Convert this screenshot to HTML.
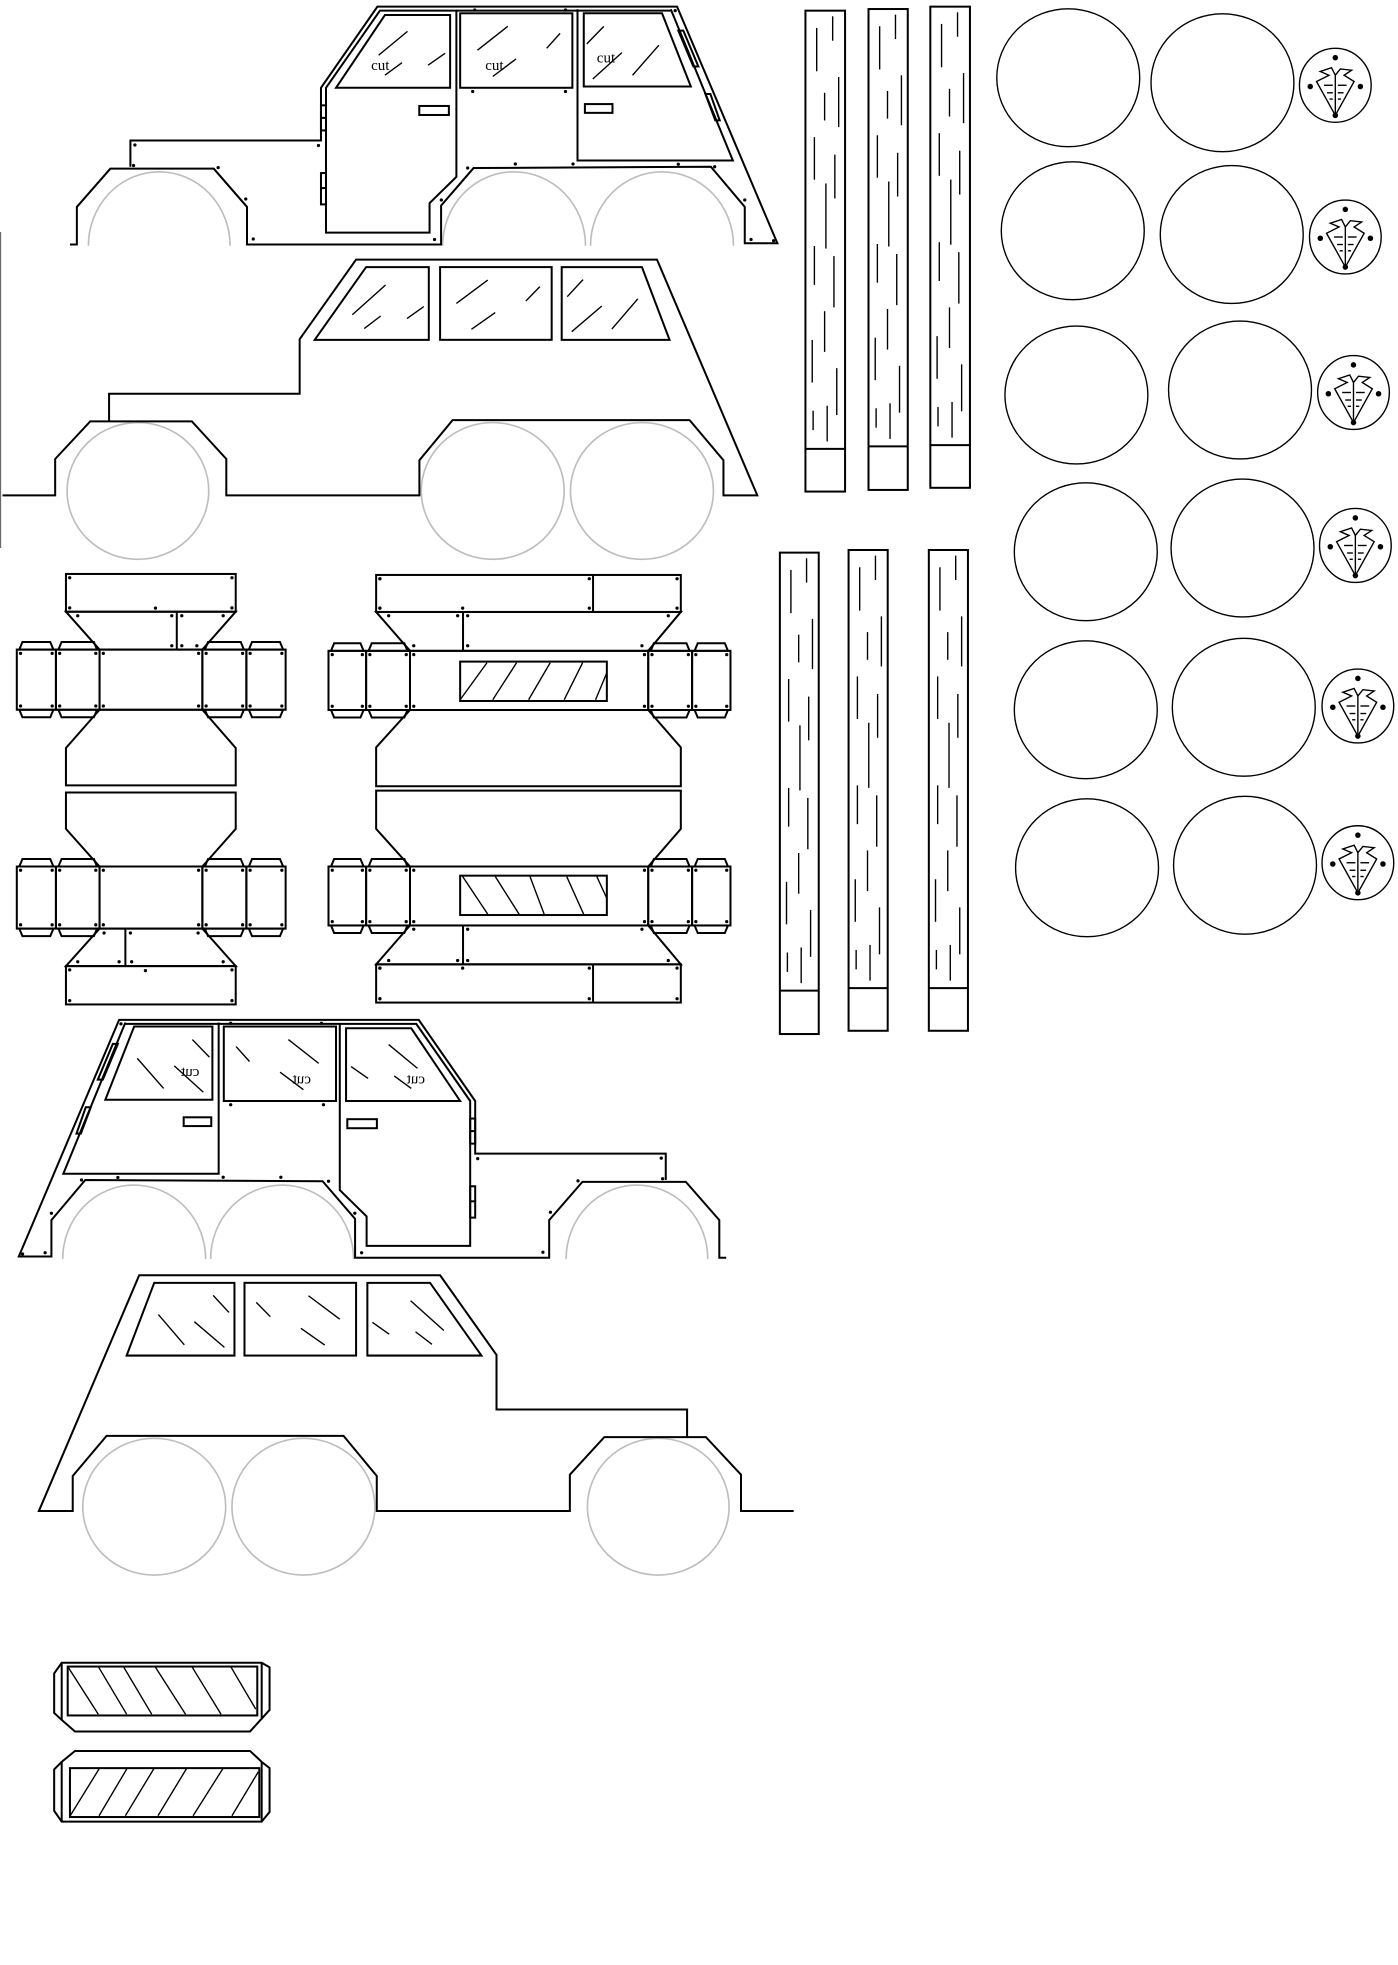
<!DOCTYPE html>
<html><head><meta charset="utf-8"><style>
html,body{margin:0;padding:0;background:#fff;}
svg{display:block;}
.k{fill:none;stroke:#000;stroke-width:1.6;stroke-linejoin:miter;}
.t{fill:none;stroke:#000;stroke-width:1.1;}
.g{fill:none;stroke:#bdbdbd;stroke-width:1.3;}
.cut{font-family:"Liberation Serif",serif;font-size:12px;fill:#000;}
</style></head><body>
<svg id="s" width="1398" height="1965" viewBox="0 0 1115 1567" preserveAspectRatio="none" xmlns="http://www.w3.org/2000/svg">
<defs>
<clipPath id="c1"><rect x="0" y="0" width="700" height="196"/></clipPath>
<clipPath id="c2"><rect x="0" y="0" width="700" height="447"/></clipPath>
<g id="truckA">
  <g clip-path="url(#c1)">
    <ellipse class="g" cx="127" cy="196" rx="56.5" ry="59"/>
    <ellipse class="g" cx="410" cy="196" rx="57" ry="59"/>
    <ellipse class="g" cx="528" cy="196" rx="57" ry="59"/>
  </g>
  <path class="k" d="M55.8,195 L61.3,195 L61.3,165 L88,134.5 L170.5,134.5 L197,165 L197,195 L351.8,195 L351.8,164 L377.7,134 L567,133 L594,165 L594,194 L620,194 L540,5.3 L301,5.3 L256,70 L256,112 L104,112 L104,133"/>
  <path class="k" d="M303,8.5 L260,70 L260,185.5 L342.6,185.5 L342.6,162 L364,141 L364,8.5 Z"/>
  <path class="k" d="M364,8.5 L535,8.5"/>
  <path class="k" d="M268,70 L307,12 L359,12 L359,70 Z"/>
  <rect class="k" x="367" y="10.6" width="89.5" height="59.4"/>
  <path class="k" d="M460.6,7.4 L460.6,128 L584.5,128 L535,7.4"/>
  <path class="k" d="M465.6,10.6 L528,10.6 L551,69 L465.6,69 Z"/>
  <rect class="k" x="334.4" y="84.5" width="23.6" height="7.2"/>
  <rect class="k" x="466.5" y="83" width="22" height="7"/>
  <rect class="k" x="256" y="84" width="4" height="20"/>
  <line class="k" x1="256" y1="94" x2="260" y2="94"/>
  <rect class="k" x="256" y="138" width="4" height="25"/>
  <line class="k" x1="256" y1="150" x2="260" y2="150"/>
  <polygon class="k" points="541,24.4 545,24.4 557,53 553,53"/>
  <polygon class="k" points="562.6,75 566.6,75 574,96 570.5,96"/>
  <g class="t">
    <line x1="325" y1="25" x2="302" y2="44"/><line x1="320.6" y1="50" x2="307" y2="60"/><line x1="355" y1="42.5" x2="341.4" y2="52"/>
    <line x1="405" y1="21" x2="380.8" y2="40"/><line x1="446.7" y1="26.6" x2="436" y2="38.5"/><line x1="411.6" y1="47" x2="393" y2="61"/>
    <line x1="481.6" y1="21" x2="468" y2="35"/><line x1="496" y1="42" x2="472.8" y2="63"/><line x1="525.5" y1="36" x2="504.5" y2="60"/>
  </g>
  <text class="cut" x="296" y="56">cut</text>
  <text class="cut" x="387" y="56">cut</text>
  <text class="cut" x="476" y="50">cut</text>
  <g id="dotsA">
    <circle cx="107.6" cy="115.6" r="1.3"/><circle cx="106.5" cy="132" r="1.3"/><circle cx="254" cy="116" r="1.3"/><circle cx="174" cy="133.7" r="1.3"/><circle cx="196" cy="158.7" r="1.3"/><circle cx="202" cy="190.6" r="1.3"/><circle cx="346.6" cy="191" r="1.3"/><circle cx="352" cy="159.5" r="1.3"/><circle cx="373" cy="134" r="1.3"/><circle cx="411" cy="130.8" r="1.3"/><circle cx="457" cy="130.8" r="1.3"/><circle cx="378.6" cy="8" r="1.3"/><circle cx="451" cy="8" r="1.3"/><circle cx="377" cy="73" r="1.3"/><circle cx="451" cy="73" r="1.3"/><circle cx="541" cy="131" r="1.3"/><circle cx="570" cy="133" r="1.3"/><circle cx="594" cy="159.5" r="1.3"/><circle cx="599" cy="191" r="1.3"/><circle cx="617" cy="192" r="1.3"/><circle cx="538.5" cy="8.5" r="1.3"/>
  </g>
</g>
<g id="truckB">
  <g clip-path="url(#c2)">
    <ellipse class="g" cx="110" cy="391.5" rx="56.5" ry="54.5"/>
    <ellipse class="g" cx="393" cy="391.5" rx="57" ry="54.5"/>
    <ellipse class="g" cx="512" cy="391.5" rx="57" ry="54.5"/>
  </g>
  <path class="k" d="M2,395 L44,395 L44,366 L72,336 L153,336 L180.5,366 L180.5,395 L334.5,395 L334.5,367 L361,335 L550,335 L577,367 L577,395 L604,395 L524,207 L284,207 L239,270.5 L239,314 L87,314 L87,336"/>
  <path class="k" d="M292,213 L342,213 L342,271 L251,271 Z"/>
  <rect class="k" x="351" y="213" width="89" height="58"/>
  <path class="k" d="M448,213 L512,213 L534,271 L448,271 Z"/>
  <g class="t">
    <line x1="307.5" y1="227.3" x2="281" y2="251"/><line x1="303.6" y1="252" x2="290.5" y2="262"/><line x1="338" y1="244.5" x2="324.6" y2="254"/>
    <line x1="389" y1="223.3" x2="364" y2="242"/><line x1="430.6" y1="228.6" x2="419.4" y2="240"/><line x1="395" y1="249.3" x2="376" y2="262.6"/>
    <line x1="465" y1="223" x2="452.4" y2="236.6"/><line x1="480" y1="244" x2="456" y2="264.5"/><line x1="508.7" y1="238.3" x2="488" y2="262.4"/>
  </g>
</g>
</defs>
<rect width="1115" height="1567" fill="#fff"/>
<line x1="0.5" y1="185" x2="0.5" y2="437" stroke="#555" stroke-width="0.8"/>
<use href="#truckA"/>
<use href="#truckB"/>
<use href="#truckA" transform="translate(635,808) scale(-1,1)"/>
<use href="#truckB" transform="translate(635,810) scale(-1,1)"/>
<g id="dyn"></g>

<!-- bottom hatched panels -->
<g>
  <polygon class="k" points="49.2,1326 208.7,1326 215,1329.6 215,1363.6 199.4,1380.8 59.8,1380.8 49.2,1371.5 43.2,1366 43.2,1334.5"/>
  <line class="k" x1="49.2" y1="1326" x2="49.2" y2="1371.5"/><line class="k" x1="208.7" y1="1326" x2="208.7" y2="1371"/>
  <rect class="k" x="54" y="1329" width="151.2" height="39"/>
  <g class="t">
    <line x1="54" y1="1329" x2="78.4" y2="1367"/><line x1="78.4" y1="1329" x2="101" y2="1367"/><line x1="98.4" y1="1329" x2="121" y2="1367"/><line x1="123.6" y1="1329" x2="148" y2="1367"/><line x1="153" y1="1329" x2="176.3" y2="1367"/><line x1="184" y1="1329" x2="204" y2="1363"/>
  </g>
  <polygon class="k" points="59.8,1396.3 199.4,1396.3 208.7,1405 215,1410 215,1445 208.7,1452.7 49.2,1452.7 43.2,1444 43.2,1411 49.2,1405"/>
  <line class="k" x1="49.2" y1="1405" x2="49.2" y2="1452.7"/><line class="k" x1="208.7" y1="1405" x2="208.7" y2="1452.7"/>
  <rect class="k" x="55.8" y="1410" width="151" height="39"/>
  <g class="t">
    <line x1="79.4" y1="1410" x2="56" y2="1448"/><line x1="101.5" y1="1410" x2="79" y2="1448"/><line x1="123" y1="1410" x2="100" y2="1448"/><line x1="149" y1="1410" x2="126" y2="1448"/><line x1="178" y1="1410" x2="154" y2="1448"/><line x1="206" y1="1413" x2="185" y2="1448"/>
  </g>
</g>
</svg>
<script>
(function(){
var NS="http://www.w3.org/2000/svg",d=document.getElementById("dyn");
function el(t,a,c){var e=document.createElementNS(NS,t);for(var k in a)e.setAttribute(k,a[k]);if(c)e.setAttribute("class",c);d.appendChild(e);return e;}
function R(x1,y1,x2,y2,c){el("rect",{x:x1,y:y1,width:x2-x1,height:y2-y1},c||"k");}
function L(x1,y1,x2,y2,c){el("line",{x1:x1,y1:y1,x2:x2,y2:y2},c||"k");}
function P(pts,c){el("polygon",{points:pts.map(function(p){return p.join(",")}).join(" ")},c||"k");}
function D(x,y,r){el("circle",{cx:x,cy:y,r:r||1.3,fill:"#000"});}
function dots(x1,y1,x2,y2){D(x1+3,y1+3);D(x2-3,y1+3);D(x1+3,y2-3);D(x2-3,y2-3);}
function sideBoxes(xs,y1,y2){for(var i=0;i<xs.length;i++){var a=xs[i][0],b=xs[i][1];R(a,y1,b,y2);P([[a+2,y1],[a+4.5,y1-6],[b-4.5,y1-6],[b-2,y1]]);P([[a+2,y2],[a+4.5,y2+6],[b-4.5,y2+6],[b-2,y2]]);dots(a,y1,b,y2);}}
// Net L1
R(52.6,457.7,188,487.8);dots(52.6,457.7,188,487.8);D(124,485);
P([[52.6,487.8],[188,487.8],[161.4,518],[79.4,518]]);L(141,487.8,141,518);D(62,491);D(137,491);D(145,491);D(178,491);D(137,515);D(145,515);D(157,515);
R(79.4,518,161.4,566);dots(79.4,518,161.4,566);
sideBoxes([[13.4,44.6],[44.6,79.4],[161.4,196.5],[196.5,227.8]],518,566);
P([[79.4,566],[52.6,596.5],[52.6,626.3],[188,626.3],[188,596.5],[161.4,566]]);
// Net L2
P([[52.6,632],[188,632],[188,661],[161.4,691],[79.4,691],[52.6,661]]);
R(79.4,691,161.4,740.5);dots(79.4,691,161.4,740.5);
sideBoxes([[13.4,44.6],[44.6,79.4],[161.4,196.5],[196.5,227.8]],691,740.5);
P([[79.4,740.5],[161.4,740.5],[188,770.4],[52.6,770.4]]);L(100,740.5,100,770.4);D(83,744);D(104,744);D(158,744);D(62,767);D(95,767);D(105,767);D(178,767);
R(52.6,770.4,188,801);dots(52.6,770.4,188,801);D(116,774);
// Net R1
R(300,458.5,543,488);L(473,458.5,473,488);dots(300,458.5,543,488);dots(300,458.5,473,488);D(369,485);
P([[300,488],[543,488],[517,519],[327,519]]);L(369.3,488,369.3,519);D(310,491);D(365,491);D(373,491);D(533,491);D(373,515);D(330,515);D(512,515);
R(327,519,517,566.2);dots(327,519,517,566.2);
R(367,527.6,484,559);
[[388.4,367],[412,393],[438.8,421.6],[464.7,450]].forEach(function(a){L(a[0],528.5,a[1],558,"t");});L(483.8,537,475,558,"t");
sideBoxes([[262,292],[292,327],[517,552],[552,582.6]],519,566.2);
P([[327,566.2],[300,596],[300,627],[543,627],[543,596],[517,566.2]]);
// Net R2
P([[300,630.5],[543,630.5],[543,661],[517,691],[327,691],[300,661]]);
R(327,691,517,738);dots(327,691,517,738);
R(367,698.3,484,729.7);
[[369,389],[395,414],[422.7,434],[452,465.5]].forEach(function(a){L(a[0],699,a[1],729,"t");});L(476,699,483.8,716,"t");
sideBoxes([[262,292],[292,327],[517,552],[552,582.6]],691,738);
P([[327,738],[517,738],[543,769],[300,769]]);L(369.3,738,369.3,769);D(330,741);D(373,741);D(512,741);D(310,766);D(365,766);D(373,766);D(533,766);
R(300,769,543,799.5);L(473,769,473,799.5);dots(300,769,543,799.5);dots(300,769,473,799.5);D(369,772);
// sticks
var grain=[[8.8,13.8,48.4],[21.3,4.5,24],[26,53,93],[15,65.6,87.7],[7,101,135],[23,115,150],[16,138,190],[7,188,219],[22.3,196,237],[15,240,272.5],[5.3,263,297],[24.5,285.5,323],[6,319.5,335],[17,315.5,344]];
function stick(x1,y1,x2,y2,dv){R(x1,y1,x2,y2);L(x1,dv,x2,dv);var s=(dv-y1)/350;grain.forEach(function(g){var x=x1+g[0]*(x2-x1)/31;L(x,y1+g[1]*s,x,y1+g[2]*s,"t");});}
stick(642.4,8.5,674,392,358);stick(692.7,7.2,724,390.7,356);stick(742,5.3,773.6,389,355);
stick(622,440.7,653,824.6,790);stick(676.8,438.6,708,822,788);stick(740.8,438.6,772,822,788);
// circles
var big=[[852,62,975,66],[855.6,184,982.4,187],[858.5,315,989,311],[866,440,991,437],[866,566,992,564],[867,692,993,690]];
var em=[[1065,68],[1073,189],[1079.5,313],[1081,435],[1083,563],[1083,688]];
big.forEach(function(b){el("ellipse",{cx:b[0],cy:b[1],rx:57,ry:55},"t");el("ellipse",{cx:b[2],cy:b[3],rx:57,ry:55},"t");});
em.forEach(function(e){var x=e[0],y=e[1];el("ellipse",{cx:x,cy:y,rx:28.6,ry:29.5},"t");
D(x,y-22,2.2);D(x-20,y+1,2.2);D(x+20,y+1,2.2);D(x,y+24,2.2);
el("path",{d:"M"+(x-15)+","+(y-3)+" L"+x+","+(y+24)+" L"+(x+15)+","+(y-3)+" L"+(x+7)+","+(y-8)+" L"+(x+13)+","+(y-12)+" L"+(x+4)+","+(y-13)+" L"+x+","+(y-8)+" L"+(x-3)+","+(y-14)+" L"+(x-12)+","+(y-11)+" L"+(x-5)+","+(y-8)+" Z"},"t");
L(x,y-8,x,y+24,"t");[0,6,11].forEach(function(o){L(x-9+o*0.4,y+o,x-2,y+o,"t");L(x+2,y+o,x+9-o*0.4,y+o,"t");});});
})();
</script>
</body></html>
